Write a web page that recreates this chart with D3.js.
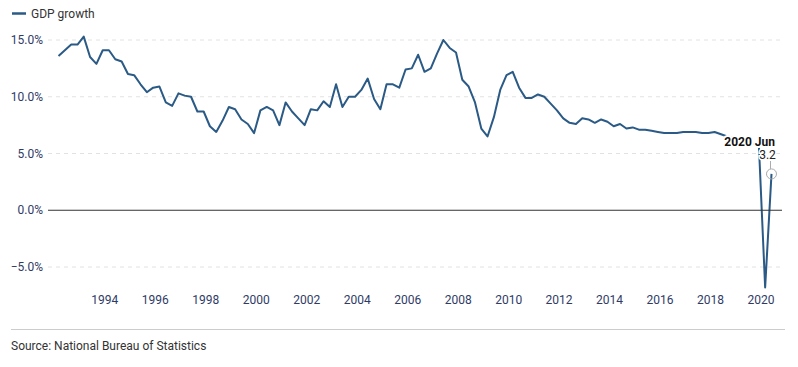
<!DOCTYPE html>
<html>
<head>
<meta charset="utf-8">
<script src="https://cdn.jsdelivr.net/npm/d3@7"></script>
<style>
  body { margin: 0; background: #fff; font-family: Roboto, "Noto Sans", sans-serif; }
  text { font-family: Roboto, "Noto Sans", sans-serif; }
</style>
</head>
<body>
<div id="chart"></div>
<script>
// quarterly GDP growth, year-on-year, 1992 Q1 .. 2020 Q2
const startYear = 1992;
const growth = [
  13.6, 14.1, 14.6, 14.6, 15.3, 13.5, 12.9, 14.1, 14.1, 13.3, 13.1, 12.0,
  11.9, 11.1, 10.4, 10.8, 10.9, 9.5, 9.2, 10.3, 10.1, 10.0, 8.7, 8.7,
  7.4, 6.9, 7.9, 9.1, 8.9, 8.0, 7.6, 6.8, 8.8, 9.1, 8.8, 7.5,
  9.5, 8.7, 8.1, 7.5, 8.9, 8.8, 9.6, 9.1, 11.1, 9.1, 10.0, 10.0,
  10.6, 11.6, 9.8, 8.9, 11.1, 11.1, 10.8, 12.4, 12.5, 13.7, 12.2, 12.5,
  13.8, 15.0, 14.3, 13.9, 11.5, 10.9, 9.5, 7.2, 6.5, 8.2, 10.6, 11.9,
  12.2, 10.8, 9.9, 9.9, 10.2, 10.0, 9.4, 8.8, 8.1, 7.7, 7.6, 8.1,
  8.0, 7.7, 8.0, 7.8, 7.4, 7.6, 7.2, 7.3, 7.1, 7.1, 7.0, 6.9,
  6.8, 6.8, 6.8, 6.9, 6.9, 6.9, 6.8, 6.8, 6.9, 6.7, 6.5, 6.4,
  6.3, 6.0, 5.9, 5.8, -6.8, 3.2
];
const yTicks = [-5, 0, 5, 10, 15];
const xTickYears = d3.range(1994, 2021, 2);
const seriesName = "GDP growth";
const sourceText = "Source: National Bureau of Statistics";

const width = 798, height = 367;
const plot = { left: 48, right: 782 };
const lineColor = "#2a5a85";
const labelColor = "#2f3b66";

const data = growth.map((v, i) => ({
  date: new Date(startYear + Math.floor(i / 4), (i % 4) * 3 + 2, 1),
  value: v
}));

const svg = d3.select("#chart")
  .append("svg")
  .attr("width", width)
  .attr("height", height);

const x = d3.scaleTime()
  .domain([new Date(1991, 9, 1), new Date(2020, 9, 31)])
  .range([plot.left, plot.right]);

const y = d3.scaleLinear()
  .domain([-5, 15])
  .range([267, 40]);

// legend
svg.append("line")
  .attr("x1", 12).attr("x2", 26)
  .attr("y1", 13.5).attr("y2", 13.5)
  .attr("stroke", lineColor)
  .attr("stroke-width", 2.5);
svg.append("text")
  .attr("x", 31)
  .attr("y", 17.5)
  .attr("font-size", 12)
  .attr("fill", "#333")
  .text(seriesName);

// grid lines + y labels
const grid = svg.append("g");
grid.selectAll("line")
  .data(yTicks.filter((d) => d !== 0))
  .enter()
  .append("line")
  .attr("x1", plot.left).attr("x2", plot.right)
  .attr("y1", (d) => y(d)).attr("y2", (d) => y(d))
  .attr("stroke", "#e2e2e2")
  .attr("stroke-dasharray", "4,4");

grid.selectAll("text")
  .data(yTicks)
  .enter()
  .append("text")
  .attr("x", 43)
  .attr("y", (d) => y(d))
  .attr("dy", "0.35em")
  .attr("text-anchor", "end")
  .attr("font-size", 12)
  .attr("fill", labelColor)
  .text((d) => (d < 0 ? "\u2212" : "") + Math.abs(d).toFixed(1) + "%");

// x axis labels
svg.append("g")
  .selectAll("text")
  .data(xTickYears)
  .enter()
  .append("text")
  .attr("x", (d) => x(new Date(d, 0, 1)))
  .attr("y", 303.5)
  .attr("text-anchor", "middle")
  .attr("font-size", 12)
  .attr("fill", labelColor)
  .text((d) => d);

// the line
const line = d3.line()
  .x((d) => x(d.date))
  .y((d) => y(d.value));

svg.append("path")
  .datum(data)
  .attr("d", line)
  .attr("fill", "none")
  .attr("stroke", lineColor)
  .attr("stroke-width", 2)
  .attr("stroke-linejoin", "round");

// zero baseline
svg.append("line")
  .attr("x1", plot.left).attr("x2", plot.right)
  .attr("y1", y(0)).attr("y2", y(0))
  .attr("stroke", "#333")
  .attr("stroke-width", 1.2);

// annotation on the last point
const last = data[data.length - 1];
const lx = x(last.date), ly = y(last.value);

svg.append("text")
  .attr("x", 775)
  .attr("y", 146)
  .attr("text-anchor", "end")
  .attr("font-size", 12)
  .attr("font-weight", "bold")
  .attr("fill", "#111")
  .attr("stroke", "#fff")
  .attr("stroke-width", 4)
  .attr("paint-order", "stroke")
  .text("2020 Jun");

svg.append("text")
  .attr("x", lx - 4)
  .attr("y", 158.5)
  .attr("text-anchor", "middle")
  .attr("font-size", 12)
  .attr("fill", "#222")
  .attr("stroke", "#fff")
  .attr("stroke-width", 3)
  .attr("paint-order", "stroke")
  .text(last.value.toFixed(1));

svg.append("line")
  .attr("x1", lx - 1).attr("x2", lx - 1)
  .attr("y1", 161).attr("y2", ly - 5)
  .attr("stroke", "#aaa");

svg.append("circle")
  .attr("cx", lx)
  .attr("cy", ly)
  .attr("r", 5)
  .attr("fill", "none")
  .attr("stroke", "#aaa")
  .attr("stroke-width", 1);

// footer
svg.append("line")
  .attr("x1", 11).attr("x2", 785)
  .attr("y1", 329.5).attr("y2", 329.5)
  .attr("stroke", "#ccc");

svg.append("text")
  .attr("x", 11)
  .attr("y", 349.5)
  .attr("font-size", 12)
  .attr("fill", "#333")
  .text(sourceText);
</script>
</body>
</html>
